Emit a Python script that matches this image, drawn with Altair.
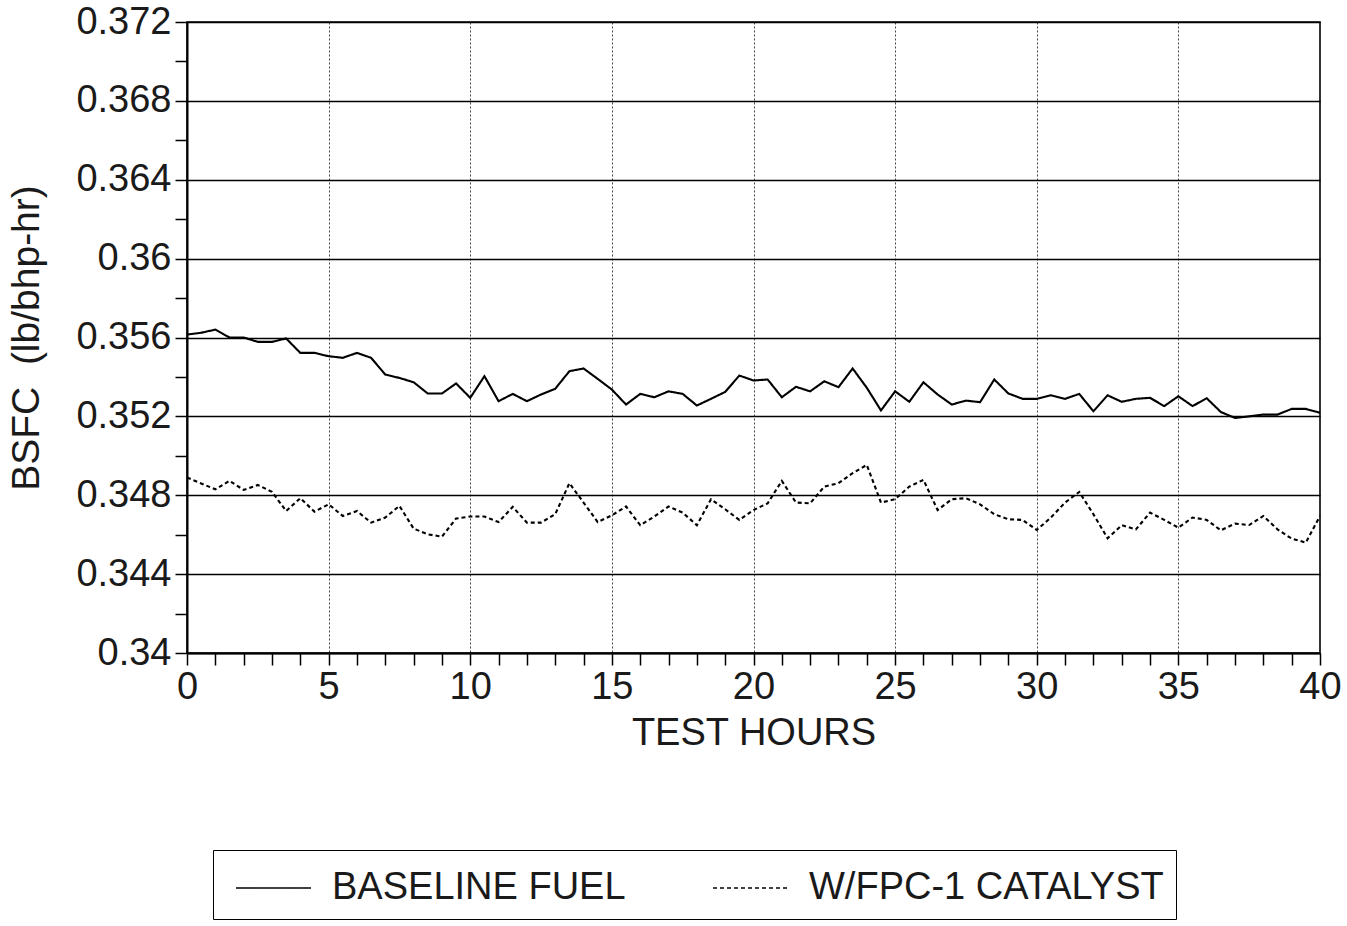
import altair as alt
import pandas as pd

hours = [i * 0.5 for i in range(81)]

baseline = [
    0.35615, 0.35624, 0.35640, 0.35600, 0.35600, 0.35578, 0.35578, 0.35595, 0.35522, 0.35522,
    0.35505, 0.35497, 0.35522, 0.35497, 0.35412, 0.35395, 0.35373, 0.35316, 0.35316, 0.35367,
    0.35294, 0.35404, 0.35277, 0.35314, 0.35277, 0.35311, 0.35340, 0.35429, 0.35443, 0.35390,
    0.35336, 0.35260, 0.35314, 0.35297, 0.35327, 0.35314, 0.35255, 0.35289, 0.35324, 0.35407,
    0.35382, 0.35387, 0.35297, 0.35350, 0.35327, 0.35378, 0.35348, 0.35443, 0.35345, 0.35230,
    0.35327, 0.35274, 0.35373, 0.35311, 0.35260, 0.35280, 0.35272, 0.35387, 0.35316, 0.35289,
    0.35289, 0.35307, 0.35289, 0.35314, 0.35226, 0.35307, 0.35274, 0.35289, 0.35294, 0.35252,
    0.35302, 0.35252, 0.35292, 0.35222, 0.35192, 0.35200, 0.35209, 0.35209, 0.35238, 0.35238,
    0.35218,
]

catalyst = [
    0.34890, 0.34860, 0.34830, 0.34873, 0.34827, 0.34852, 0.34817, 0.34720, 0.34785, 0.34717,
    0.34754, 0.34695, 0.34720, 0.34661, 0.34687, 0.34746, 0.34631, 0.34602, 0.34590, 0.34682,
    0.34692, 0.34692, 0.34664, 0.34741, 0.34661, 0.34661, 0.34704, 0.34861, 0.34763, 0.34664,
    0.34698, 0.34743, 0.34648, 0.34692, 0.34743, 0.34712, 0.34648, 0.34780, 0.34729, 0.34675,
    0.34725, 0.34759, 0.34873, 0.34763, 0.34759, 0.34844, 0.34861, 0.34912, 0.34954, 0.34763,
    0.34780, 0.34844, 0.34878, 0.34725, 0.34780, 0.34785, 0.34754, 0.34704, 0.34678, 0.34675,
    0.34624, 0.34687, 0.34763, 0.34817, 0.34704, 0.34582, 0.34648, 0.34627, 0.34712, 0.34675,
    0.34636, 0.34687, 0.34675, 0.34622, 0.34656, 0.34649, 0.34695, 0.34627, 0.34580, 0.34560,
    0.34695,
]

series_names = ["BASELINE FUEL", "W/FPC-1 CATALYST"]
x_ticks = list(range(0, 41))
y_ticks = [round(0.340 + 0.002 * i, 3) for i in range(17)]

df = pd.DataFrame(
    {
        "hours": hours * 2,
        "bsfc": baseline + catalyst,
        "series": [series_names[0]] * len(hours) + [series_names[1]] * len(hours),
    }
)

AXIS_FONT = "Liberation Sans, Arial, sans-serif"
TXT = "#1a1a1a"

x_axis = alt.Axis(
    values=x_ticks,
    labelExpr="datum.value % 5 == 0 ? datum.value : ''",
    labelOverlap=False,
    labelFlush=False,
    labelFont=AXIS_FONT,
    labelFontSize=38,
    labelColor=TXT,
    labelPadding=3,
    tickSize=12,
    tickColor="black",
    tickWidth=1.5,
    domainColor="black",
    domainWidth=2,
    grid=True,
    gridColor="#444",
    gridDash=[2, 2],
    gridWidth=1,
    gridOpacity={"condition": {"test": "datum.value % 5 == 0 && datum.value > 0 && datum.value < 40", "value": 1}, "value": 0},
    title="TEST HOURS",
    titleFont=AXIS_FONT,
    titleFontSize=38,
    titleFontWeight="normal",
    titleColor=TXT,
    titlePadding=8,
)

y_axis = alt.Axis(
    values=y_ticks,
    labelExpr="round(datum.value * 1000) % 4 == 0 ? format(datum.value, '.3~f') : ''",
    labelOverlap=False,
    labelFlush=False,
    labelFont=AXIS_FONT,
    labelFontSize=38,
    labelColor=TXT,
    labelPadding=4,
    tickSize=12,
    tickColor="black",
    tickWidth=1.5,
    domainColor="black",
    domainWidth=2,
    grid=True,
    gridColor="black",
    gridWidth=1.6,
    gridOpacity={"condition": {"test": "round(datum.value * 1000) % 4 == 0", "value": 1}, "value": 0},
    title="BSFC\u00a0\u00a0(lb/bhp-hr)",
    titleFont=AXIS_FONT,
    titleFontSize=39,
    titleFontWeight="normal",
    titleColor=TXT,
    titlePadding=29,
)

chart = (
    alt.Chart(df)
    .mark_line(color="black", strokeWidth=2.1)
    .encode(
        x=alt.X("hours:Q", scale=alt.Scale(domain=[0, 40], nice=False), axis=x_axis),
        y=alt.Y("bsfc:Q", scale=alt.Scale(domain=[0.34, 0.372], nice=False, zero=False), axis=y_axis),
        strokeDash=alt.StrokeDash(
            "series:N",
            scale=alt.Scale(domain=series_names, range=[[1, 0], [4, 3]]),
            legend=alt.Legend(
                title=None,
                orient="none",
                legendX=26,
                legendY=828,
                direction="horizontal",
                symbolType="M-0.6,0H2.4",
                symbolSize=2500,
                symbolStrokeColor="black",
                symbolStrokeWidth=1.5,
                symbolFillColor="transparent",
                labelFont=AXIS_FONT,
                labelFontSize=38,
                labelColor=TXT,
                labelOffset=55,
                labelLimit=600,
                columnPadding=76,
                padding=12,
                strokeColor="black",
                fillColor="white",
            ),
        ),
        detail="series:N",
    )
    .properties(
        width=1133,
        height=631,
        autosize=alt.AutoSizeParams(type="none"),
        padding={"left": 187, "top": 22, "right": 27, "bottom": 273},
        background="white",
    )
    .configure_view(stroke="black", strokeWidth=1.6)
)

chart.save("out.html", embed_options={"renderer": "svg", "actions": False})
